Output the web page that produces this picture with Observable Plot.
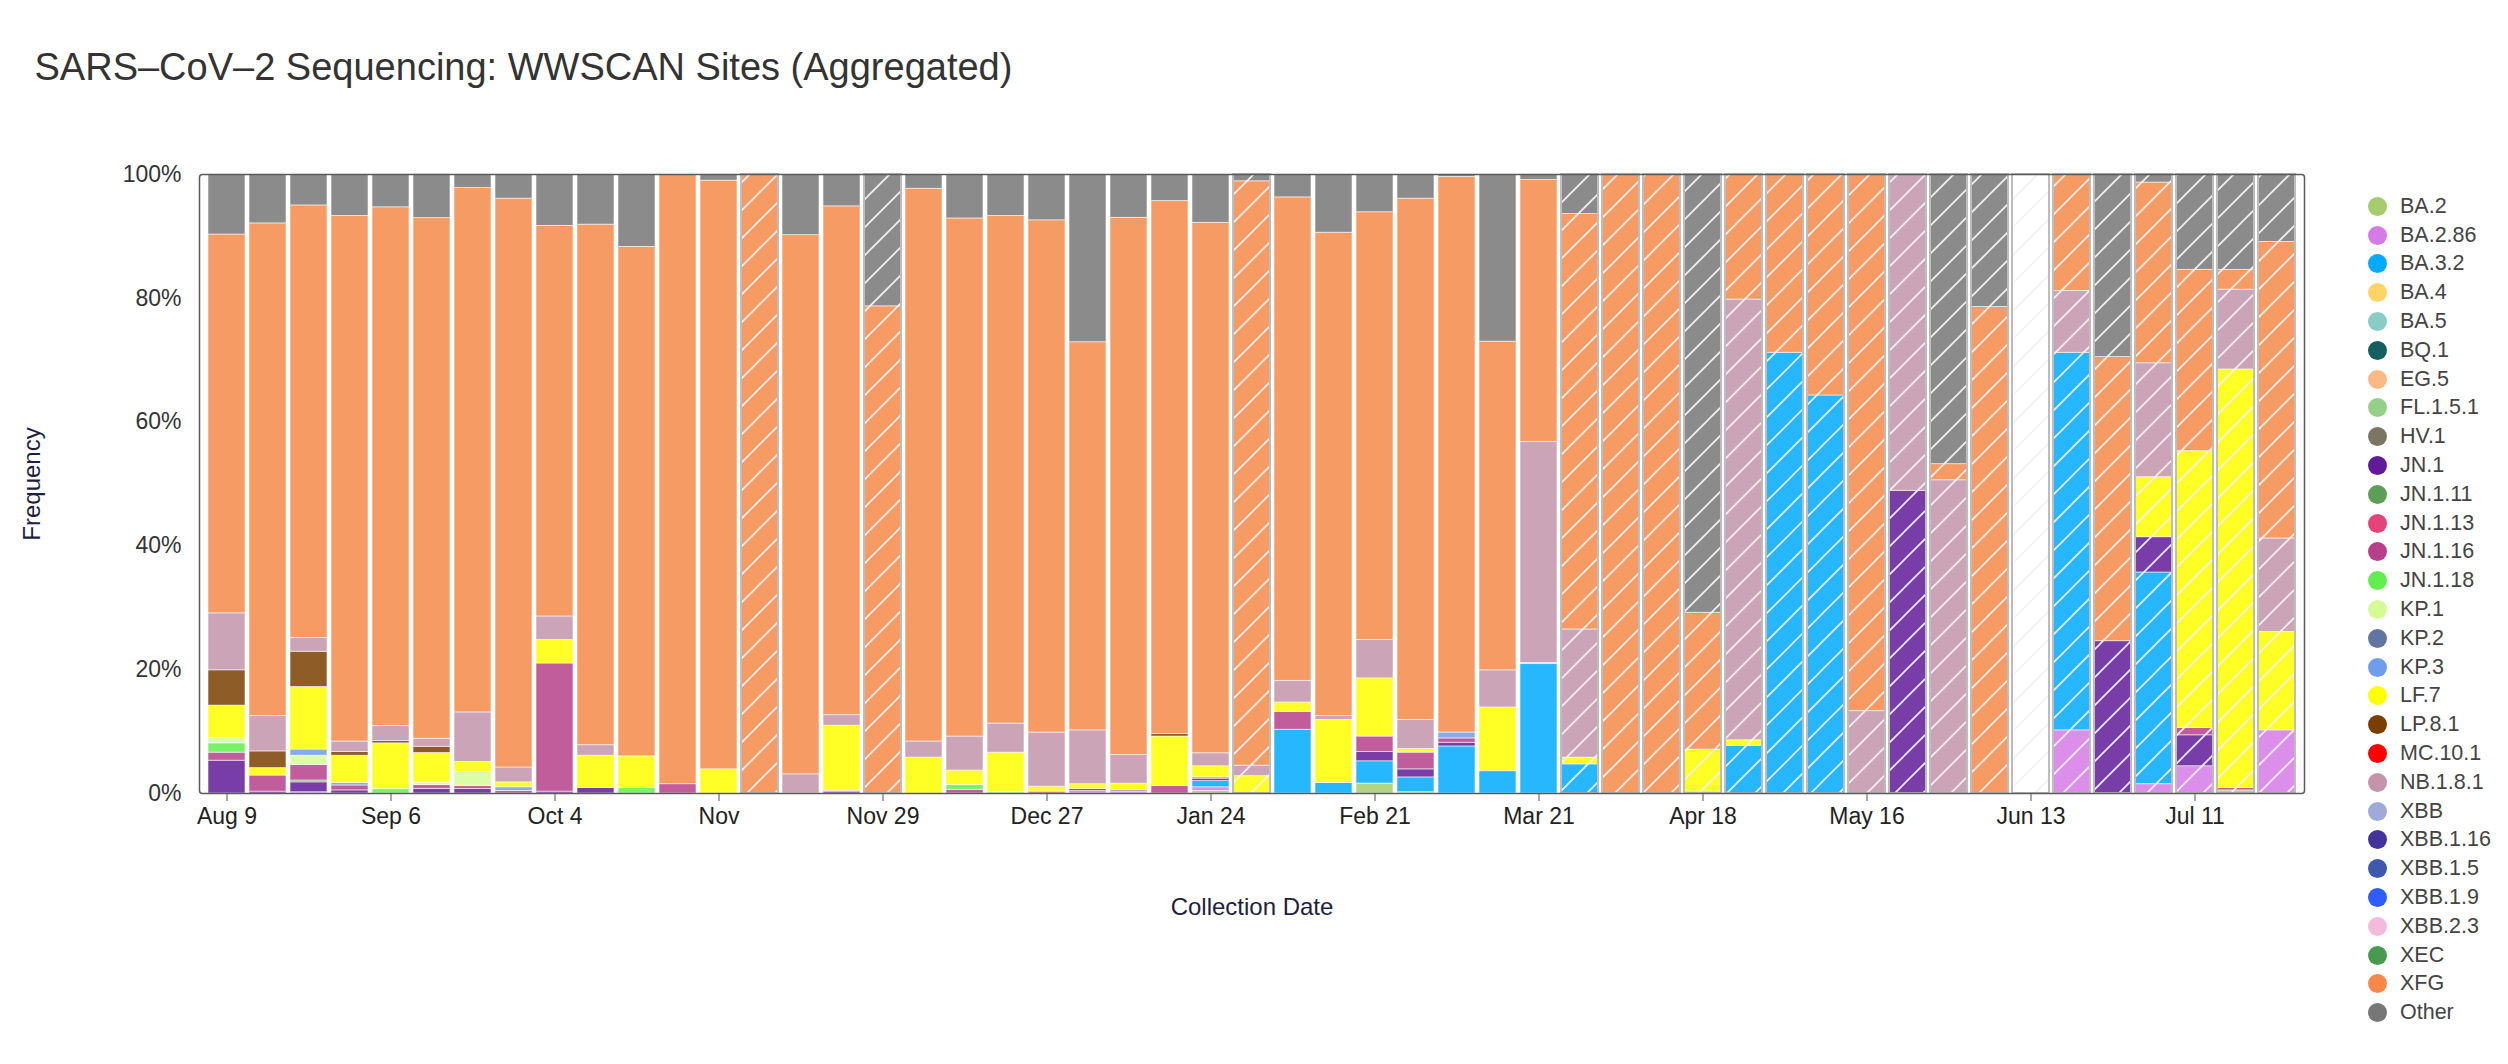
<!DOCTYPE html>
<html>
<head>
<meta charset="utf-8">
<script src="https://cdn.jsdelivr.net/npm/d3@7"></script>
<script src="https://cdn.jsdelivr.net/npm/@observablehq/plot@0.6"></script>
<style>
  html, body { margin: 0; padding: 0; background: #fff; }
  #wrap { position: relative; width: 2508px; height: 1064px; font-family: "Liberation Sans", Arial, Helvetica, sans-serif; }
  #legend { position: absolute; left: 2368px; top: 192px; }
  .lg-row { display: flex; align-items: center; height: 28.8px; font-size: 21.5px; color: #444; }
  .lg-dot { width: 19px; height: 19px; border-radius: 50%; margin-right: 13px; flex: none; }
</style>
</head>
<body>
<div id="wrap"><div id="legend"></div></div>
<script>
// ---- categories ----
const dates = [
  "2025-08-09","2025-08-16","2025-08-23","2025-08-30","2025-09-06","2025-09-13","2025-09-20","2025-09-27","2025-10-04","2025-10-11",
  "2025-10-18","2025-10-25","2025-11-01","2025-11-08","2025-11-15","2025-11-22","2025-11-29","2025-12-06","2025-12-13","2025-12-20",
  "2025-12-27","2026-01-03","2026-01-10","2026-01-17","2026-01-24","2026-01-31","2026-02-07","2026-02-14","2026-02-21","2026-02-28",
  "2026-03-07","2026-03-14","2026-03-21","2026-03-28","2026-04-04","2026-04-11","2026-04-18","2026-04-25","2026-05-02","2026-05-09",
  "2026-05-16","2026-05-23","2026-05-30","2026-06-06","2026-06-13","2026-06-20","2026-06-27","2026-07-04","2026-07-11","2026-07-18",
  "2026-07-25"
];
const tickDates = ["2025-08-09","2025-09-06","2025-10-04","2025-11-01","2025-11-29","2025-12-27","2026-01-24","2026-02-21","2026-03-21","2026-04-18","2026-05-16","2026-06-13","2026-07-11"];
// weeks drawn with hatching (low sample coverage)
const hatchedWeeks = ["2025-11-08","2025-11-29","2026-01-31",
  "2026-03-28","2026-04-04","2026-04-11","2026-04-18","2026-04-25","2026-05-02","2026-05-09","2026-05-16","2026-05-23",
  "2026-05-30","2026-06-06","2026-06-13","2026-06-20","2026-06-27","2026-07-04","2026-07-11","2026-07-18","2026-07-25"];

const lineages = ["BA.2","BA.2.86","BA.3.2","BA.4","BA.5","BQ.1","EG.5","FL.1.5.1","HV.1","JN.1","JN.1.11","JN.1.13","JN.1.16","JN.1.18","KP.1","KP.2","KP.3","LF.7","LP.8.1","MC.10.1","NB.1.8.1","XBB","XBB.1.16","XBB.1.5","XBB.1.9","XBB.2.3","XEC","XFG","Other"];
const lineageColors = ["#a5cd6d","#d57be8","#00aaff","#ffd466","#88cdc5","#155f60","#fdb983","#95d088","#7a7662","#611b99","#5c9e55","#e4447a","#b6418a","#62ee4f","#d6fb96","#6274a0","#6d9dec","#ffff00","#7a3f00","#ff0000","#c394aa","#a0aad8","#44339b","#3e58b0","#2e5cff","#f2badd","#479a4f","#f6894a","#777777"];

// ---- series values (percent per week) ----
const BA_2 = [0,0,0,0,0,0,0,0,0,0, 0,0,0,0,0,0,0,0,0,0, 0,0,0,0,0.4,0,0,0,1.6,0.2, 0,0,0,0,0,0,0,0,0,0, 0,0,0,0,0,0,0,0,0,0.5, 0];
const BA_2_86 = [0,0,0.2,0,0,0,0,0,0,0, 0,0,0,0,0,0,0,0,0,0, 0,0.4,0.3,0,0.6,0,0,0,0,0, 0,0,0,0,0,0,0,0,0,0, 0,0,0,0,0,10.2,0,1.5,4.4,0, 10.2];
const BA_3_2 = [0,0,0,0,0,0,0,0,0,0, 0,0,0,0,0,0,0,0,0,0, 0,0,0,0,1.0,0,10.3,1.7,3.6,2.4, 7.6,3.6,20.9,4.7,0,0,0.3,7.7,71.2,64.3, 0,0,0,0,0,61.0,0,34.2,0,0, 0];
const FL_1_5_1 = [0,0,0,0,0,0,0,0,0,0, 0,0,0,0,0,0,0,0,0,0, 0,0,0,0,0,0,0,0,0,0, 0,0,0.2,0,0,0,0,0,0,0, 0,0,0,0,0,0,0,0,0,0, 0];
const JN_1 = [5.3,0.3,1.6,0.5,0,0.75,0.75,0,0.3,0.9, 0,0,0,0,0,0.3,0,0,0,0, 0,0.3,0.2,0,0.4,0,0,0,1.5,1.3, 0.6,0,0,0,0,0,0,0,0,0, 0,48.9,0,0,0,0,24.6,5.7,5.0,0, 0];
const JN_1_11 = [0,0,0.3,0,0,0,0,0,0,0, 0,0,0,0,0,0,0,0,0,0, 0,0,0,0,0,0,0,0,0,0, 0,0,0,0,0,0,0,0,0,0, 0,0,0,0,0,0,0,0,0,0, 0];
const JN_1_16 = [1.3,2.6,2.5,0.8,0,0.6,0.45,0.4,20.7,0, 0,1.5,0,0,0,0.15,0,0,0.6,0, 0.3,0,0,1.2,0.2,0,2.9,0,2.5,2.7, 0.7,0,0,0,0,0,0,0,0,0, 0,0,0,0,0,0,0,0,1.2,0.4, 0];
const JN_1_18 = [1.5,0,0,0,0.7,0,0,0,0,0, 0.9,0,0,0,0,0,0,0,0.75,0.2, 0,0,0,0,0,0,0,0,0,0, 0,0,0,0,0,0,0,0,0,0, 0,0,0,0,0,0,0,0,0,0, 0];
const KP_1 = [0.9,0,1.5,0,0,0.4,2.3,0,0,0, 0,0,0,0,0,0,0,0,0,0, 0,0,0,0,0,0,0,0,0,0, 0,0,0,0,0,0,0,0,0,0, 0,0,0,0,0,0,0,0,0,0, 0];
const KP_3 = [0,0,1.0,0.4,0,0,0,0.6,0,0, 0,0,0,0,0,0,0,0,0,0, 0,0,0,0,0,0,0,0,0,0, 0.95,0,0,0,0,0,0,0,0,0, 0,0,0,0,0,0,0,0,0,0, 0];
const LF_7 = [5.2,1.2,10.1,4.4,7.4,4.8,1.6,0.8,3.8,5.2, 5.1,0,3.9,0,0,10.5,0,5.8,2.35,6.4, 0.8,0.8,1.1,8.0,1.8,2.8,1.5,10.2,9.4,0.6, 0,10.3,0,1.1,0,0,6.8,0.9,0,0, 0,0,0,0,0,0,0,9.7,44.7,67.6, 15.9];
const LP_8_1 = [5.7,2.7,5.7,0.6,0.4,1.0,0,0,0,0, 0,0,0,0,0,0,0,0,0,0, 0,0,0,0.4,0,0,0,0,0,0, 0,0,0,0,0,0,0,0,0,0, 0,0,0,0,0,0,0,0,0,0, 0];
const NB_1_8_1 = [9.2,5.7,2.2,1.7,2.4,1.3,8.0,2.4,3.8,1.7, 0,0,0,0,3.1,1.7,0,2.6,5.5,4.7, 8.75,8.7,4.6,0,2.1,1.7,3.5,0.6,6.2,4.7, 0,6.0,35.7,20.7,0,0,0,71.2,0,0, 13.3,51.1,50.6,0,0,10.0,0,18.4,0,12.9, 15.1];
const XFG = [61.2,79.6,69.9,84.9,83.8,84.1,84.7,91.9,63.1,84.1, 82.3,98.5,95.1,100,87.1,82.2,78.7,89.3,83.7,82.0, 82.75,62.7,86.8,86.1,85.7,94.4,78.1,78.1,69.1,84.2, 89.75,53.1,42.3,67.1,100,100,22.1,20.2,28.8,35.7, 86.7,0,2.6,78.6,0,18.8,45.9,29.2,29.3,3.2, 47.9];
const Other = [9.7,7.9,5.0,6.7,5.3,7.1,2.2,3.9,8.3,8.1, 11.7,0,1.0,0,9.8,5.2,21.3,2.3,7.1,6.7, 7.4,27.1,7.0,4.3,7.8,1.1,3.7,9.4,6.0,3.9, 0.4,27.0,0.9,6.4,0,0,70.8,0,0,0, 0,0,46.8,21.4,0,0,29.5,1.3,15.4,15.4, 10.9];

const seriesByLineage = {
  "BA.2": BA_2, "BA.2.86": BA_2_86, "BA.3.2": BA_3_2, "FL.1.5.1": FL_1_5_1,
  "JN.1": JN_1, "JN.1.11": JN_1_11, "JN.1.16": JN_1_16, "JN.1.18": JN_1_18,
  "KP.1": KP_1, "KP.3": KP_3, "LF.7": LF_7, "LP.8.1": LP_8_1,
  "NB.1.8.1": NB_1_8_1, "XFG": XFG, "Other": Other
};

// long table, stacked bottom-to-top in legend order
const rows = [];
dates.forEach((d, i) => {
  lineages.forEach(l => {
    const s = seriesByLineage[l];
    if (s && s[i] > 0) rows.push({date: d, lineage: l, value: s[i]});
  });
});

const parse = d3.utcParse("%Y-%m-%d");
const fmtTick = s => {
  const t = parse(s);
  return t.getUTCDate() === 1 ? d3.utcFormat("%b")(t) : d3.utcFormat("%b %-d")(t);
};

const FONT = "'Liberation Sans', Arial, Helvetica, sans-serif";

const svg = Plot.plot({
  width: 2508,
  height: 1064,
  marginLeft: 199,
  marginRight: 204,
  marginTop: 174,
  marginBottom: 271,
  style: {fontFamily: FONT, fontSize: "23px", color: "#333", background: "white"},
  x: {type: "band", domain: dates, paddingInner: 0.1, paddingOuter: 0, label: null},
  y: {domain: [0, 100], label: null},
  color: {domain: lineages, range: lineageColors},
  marks: [
    Plot.barY(rows, Plot.stackY({
      x: "date", y: "value", z: "lineage", fill: "lineage", order: lineages,
      fillOpacity: 0.85, stroke: "white", strokeWidth: 0.8, strokeOpacity: 0.7
    })),
    Plot.barY(hatchedWeeks, {
      x: d => d, y1: 0, y2: 100,
      fill: "url(#hatch)", stroke: "#bdbdbd", strokeWidth: 2
    }),
    Plot.frame({stroke: "#5a5a5a", strokeWidth: 1.5, rx: 3}),
    Plot.axisY({ticks: [0, 20, 40, 60, 80, 100], tickFormat: d => d + "%", tickSize: 0, tickPadding: 18, fontSize: 23, fill: "#333", label: null}),
    Plot.axisX({ticks: tickDates, tickFormat: fmtTick, tickSize: 8, tickPadding: 6, fontSize: 23, fill: "#222", stroke: "#555", label: null}),
    Plot.text(["SARS–CoV–2 Sequencing: WWSCAN Sites (Aggregated)"], {
      text: d => d, frameAnchor: "top-left", dx: -165, dy: -121, textAnchor: "start",
      fontSize: 38, fill: "#333"
    }),
    Plot.text(["Frequency"], {
      text: d => d, frameAnchor: "left", dx: -167, rotate: -90, textAnchor: "middle",
      fontSize: 24, fill: "#1e1e40"
    }),
    Plot.text(["Collection Date"], {
      text: d => d, frameAnchor: "bottom", dy: 121, textAnchor: "middle",
      fontSize: 24, fill: "#1e1e40"
    })
  ]
});

// hatch pattern definition
const defs = d3.select(svg).insert("defs", ":first-child");
const pat = defs.append("pattern")
  .attr("id", "hatch")
  .attr("patternUnits", "userSpaceOnUse")
  .attr("width", 28).attr("height", 28);
pat.append("path")
  .attr("d", "M0,28 L28,0 M-7,7 L7,-7 M21,35 L35,21")
  .attr("stroke", "#f3f3f3")
  .attr("stroke-width", 1.6)
  .attr("fill", "none");

document.getElementById("wrap").prepend(svg);

// legend
const legend = document.getElementById("legend");
lineages.forEach((l, i) => {
  const row = document.createElement("div");
  row.className = "lg-row";
  const dot = document.createElement("span");
  dot.className = "lg-dot";
  dot.style.background = lineageColors[i];
  const lab = document.createElement("span");
  lab.textContent = l;
  row.appendChild(dot);
  row.appendChild(lab);
  legend.appendChild(row);
});
</script>
</body>
</html>
